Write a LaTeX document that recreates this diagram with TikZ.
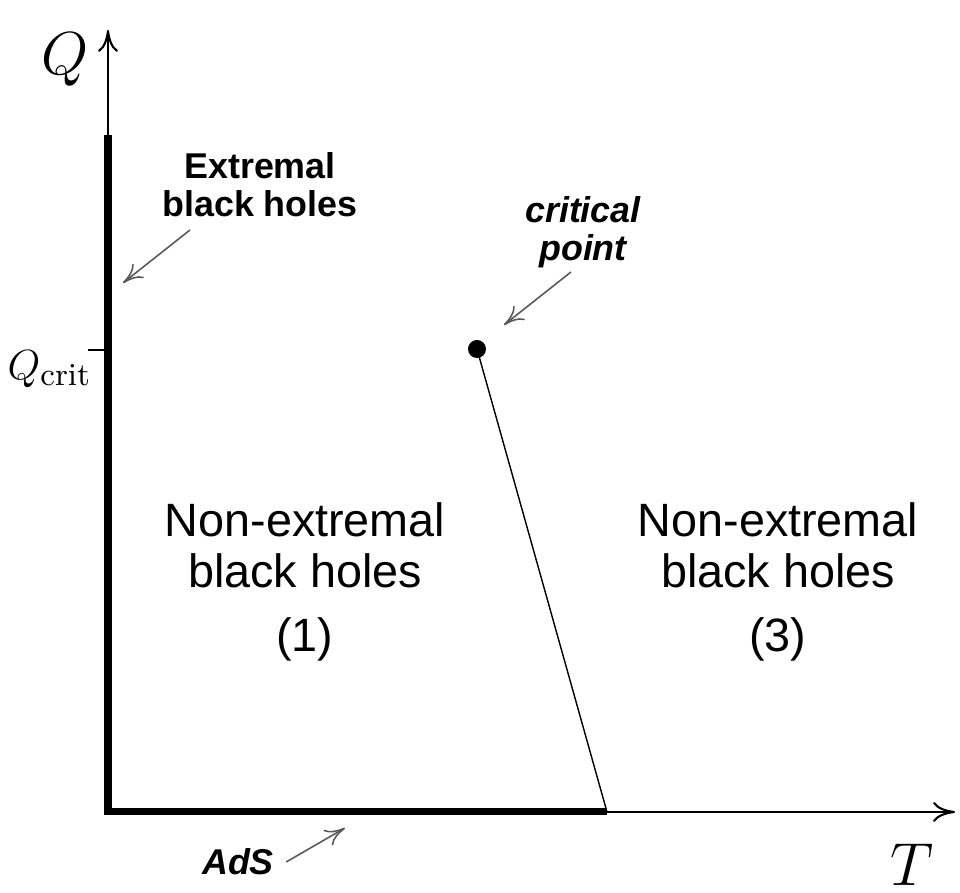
\documentclass[tikz,border=0pt]{standalone}
\usepackage{fontspec}
\setsansfont{Liberation Sans}
\usetikzlibrary{arrows.meta}

\begin{document}
\begin{tikzpicture}[
    x=1cm,
    y=1cm,
    axis/.style={line width=0.6pt, -{To[length=2.2mm, width=2mm]}},
    wall/.style={line width=2pt, line join=miter},
    pointer/.style={line width=0.45pt, color=black!65,
                    -{To[length=2mm, width=1.8mm]}},
    region/.style={font=\sffamily\fontsize{13.3}{14.5}\selectfont,
                   align=center},
    tag/.style={font=\sffamily\bfseries\fontsize{10.2}{10.8}\selectfont,
                align=center},
    axlbl/.style={font=\fontsize{16.5}{18}\selectfont},
]
\useasboundingbox (0,0) rectangle (9.6,8.93);

\coordinate (o)    at (1.08,0.81);
\coordinate (qtop) at (1.08,8.63);
\coordinate (tend) at (9.55,0.81);
\coordinate (wtop) at (1.08,7.58);
\coordinate (wend) at (6.07,0.81);
\coordinate (tick) at (0.88,5.43);
\coordinate (qc)   at (1.08,5.43);

\draw[axis] (o) -- (qtop);
\draw[axis] (o) -- (tend);
\draw[wall] (wtop) -- (o) -- (wend);
\draw[line width=0.6pt] (tick) -- (qc);

\node[circle, fill, inner sep=0pt, minimum size=1.8mm] (cp) at (4.77,5.44) {};
\draw[line width=0.4pt] (cp.center) -- (wend);

\node[axlbl] (qlbl) at (0.65,8.33) {$Q$};
\node[axlbl, font=\fontsize{13}{15}\selectfont, anchor=west, inner sep=0pt]
    (qclbl) at (0.07,5.24) {$Q_{\mathrm{crit}}$};
\node[axlbl] (tlbl) at (9.12,0.28) {$T$};

\node[tag] (ext) at (2.60,7.08) {Extremal\\black holes};
\node[tag, font=\sffamily\bfseries\itshape\fontsize{10.2}{10.8}\selectfont]
    (crit) at (5.83,6.61) {critical\\point};
\node[tag, font=\sffamily\bfseries\itshape\fontsize{10.2}{10.8}\selectfont]
    (ads) at (2.38,0.31) {AdS};

\coordinate (exta) at (1.90,6.63);
\coordinate (extb) at (1.23,6.10);
\coordinate (crita) at (5.71,6.21);
\coordinate (critb) at (5.04,5.68);
\coordinate (adsb) at (3.45,0.65);

\draw[pointer] (exta) -- (extb);
\draw[pointer] (crita) -- (critb);
\draw[pointer] (ads.east) -- (adsb);

\node[region] (left)  at (3.05,3.11) {Non-extremal\\black holes\\[3.7pt](1)};
\node[region] (right) at (7.78,3.11) {Non-extremal\\black holes\\[3.7pt](3)};
\end{tikzpicture}
\end{document}
